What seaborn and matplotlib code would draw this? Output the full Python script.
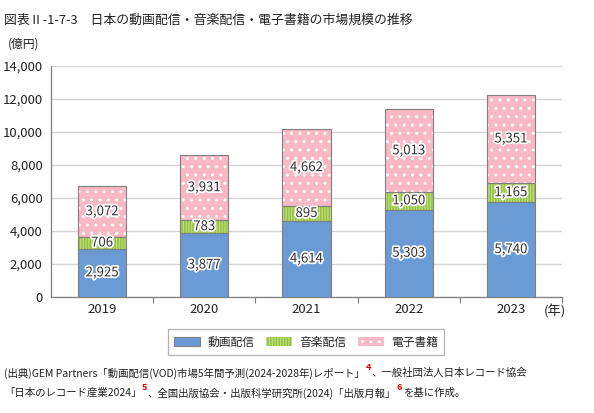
import matplotlib
matplotlib.use("Agg")
import matplotlib.pyplot as plt
import matplotlib.patheffects as pe
from matplotlib.patches import Patch
import seaborn as sns
import pandas as pd
import numpy as np

years = ["2019", "2020", "2021", "2022", "2023"]
video = [2925, 3877, 4614, 5303, 5740]
music = [706, 783, 895, 1050, 1165]
ebook = [3072, 3931, 4662, 5013, 5351]
series_names = ["動画配信", "音楽配信", "電子書籍"]
yticks = [0, 2000, 4000, 6000, 8000, 10000, 12000, 14000]

sns.set_theme(style="white")
plt.rcParams["font.family"] = ["Noto Sans CJK JP", "DejaVu Sans"]
plt.rcParams["hatch.linewidth"] = 1.0

fills = ["#6a9bd5", "#bcdc74", "#f9b8c3"]
hatch_cols = [None, "#93bf45", "#ffffff"]
hatches = [None, "||||||", ".."]
edge = "#7f7f7f"

fig = plt.figure(figsize=(5.94, 4.13), dpi=100)
ax = fig.add_axes([51/594, 1-297/413, (562-51)/594, (297-66)/413])

bottoms = [np.zeros(5), np.array(video, float), np.array(video, float) + np.array(music)]
vals = [video, music, ebook]
width = 0.47


def layer(d, bottom, color, w, z, **kw):
    n0 = len(ax.patches)
    sns.barplot(data=d, x="year", y="v", bottom=bottom, color=color, width=w,
                saturation=1, ax=ax, zorder=z, **kw)
    return ax.patches[n0:]


for i, v in enumerate(vals):
    d = pd.DataFrame({"year": years, "v": v})
    layer(d, bottoms[i], fills[i], width, 3, linewidth=0)
    if hatches[i]:
        ps = layer(d, bottoms[i], "white", width, 3.5, linewidth=0)
        for p in ps:
            p.set_facecolor("none")
            p.set_edgecolor(hatch_cols[i])
            p.set_hatch(hatches[i])
            p.set_linewidth(0)
    ps = layer(d, bottoms[i], "white", width, 4, linewidth=0.8)
    for p in ps:
        p.set_facecolor("none")
        p.set_edgecolor(edge)
    for j, val in enumerate(v):
        ax.text(j, bottoms[i][j] + val / 2, f"{val:,}", ha="center", va="center",
                fontsize=9.5, color="#333333", zorder=6,
                path_effects=[pe.withStroke(linewidth=2.5, foreground="white")])

ax.set_ylim(0, 14000)
ax.set_xlim(-0.5, 4.5)
ax.set_yticks(yticks)
ax.set_yticklabels([f"{t:,}" for t in yticks], fontsize=9.5, color="#222222")
ax.set_xticks(range(5))
ax.set_xticklabels(years, fontsize=9.5, color="#222222")
ax.set_xticks([0.5, 1.5, 2.5, 3.5, 4.5], minor=True)
ax.tick_params(axis="x", which="major", length=0, pad=4)
ax.tick_params(axis="x", which="minor", length=4, color=edge, width=0.8, bottom=True)
ax.tick_params(axis="y", length=0, pad=6)
ax.set_xlabel("")
ax.set_ylabel("")
ax.yaxis.grid(True, color="#d4d4d4", linewidth=1.0, zorder=0)
ax.set_axisbelow(True)
for s in ["top", "right"]:
    ax.spines[s].set_visible(False)
for s in ["left", "bottom"]:
    ax.spines[s].set_color(edge)
    ax.spines[s].set_linewidth(0.9)

fig.text(4/594, 1-20/413, "図表Ⅱ-1-7-3　日本の動画配信・音楽配信・電子書籍の市場規模の推移",
         fontsize=9.3, va="center", ha="left", color="#222222")
fig.text(8/594, 1-44/413, "(億円)", fontsize=8.5, va="center", ha="left", color="#222222")
fig.text(544/594, 1-311/413, "(年)", fontsize=9.5, va="center", ha="left", color="#222222")

handles = []
for i in range(3):
    if hatches[i]:
        handles.append(Patch(facecolor=fills[i], edgecolor=hatch_cols[i], hatch=hatches[i], linewidth=0))
    else:
        handles.append(Patch(facecolor=fills[i], edgecolor=edge, linewidth=0.8))
leg = fig.legend(handles, series_names, loc="center", bbox_to_anchor=(306/594, 1-342/413),
                 ncol=3, frameon=True, fancybox=False, fontsize=8.5, handlelength=2.2,
                 handleheight=0.7, columnspacing=1.0, handletextpad=0.6, borderpad=0.55)
leg.get_frame().set_edgecolor("#a0a0a0")
leg.get_frame().set_linewidth(0.9)

fig.canvas.draw()
renderer = fig.canvas.get_renderer()
lines = [
    [("(出典)GEM Partners「動画配信(VOD)市場5年間予測(2024-2028年)レポート」", False), ("4", True),
     ("、一般社団法人日本レコード協会", False)],
    [("「日本のレコード産業2024」", False), ("5", True), ("、全国出版協会・出版科学研究所(2024)「出版月報」", False),
     ("6", True), ("を基に作成。", False)],
]
ys = [1-373/413, 1-393/413]
for line, yy in zip(lines, ys):
    x = 4/594
    for txt, sup in line:
        if sup:
            t = fig.text(x, yy + 5/413, txt, fontsize=6.5, color="#e00000", fontweight="bold",
                         va="center", ha="left")
        else:
            t = fig.text(x, yy, txt, fontsize=7.5, color="#222222", va="center", ha="left")
        bb = t.get_window_extent(renderer)
        x = bb.x1 / fig.bbox.width + 0.5 / 594

fig.savefig("out.png", dpi=100)
